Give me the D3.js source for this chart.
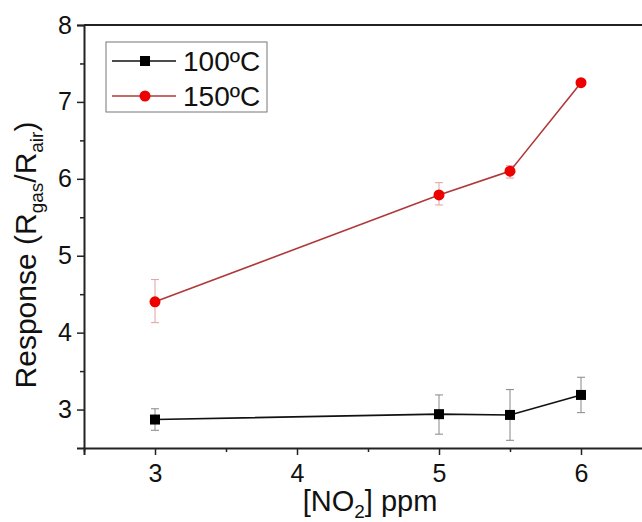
<!DOCTYPE html>
<html>
<head>
<meta charset="utf-8">
<script src="https://cdn.jsdelivr.net/npm/d3@7"></script>
<style>
  body { margin: 0; background: #fff; }
  text { font-family: "Liberation Sans", Arial, sans-serif; fill: #111; }
</style>
</head>
<body>
<svg id="canvas" width="642" height="522"></svg>
<script>
// concentration of NO2 (ppm)
let conc = [3, 5, 5.5, 6]
// response at 100 C
let resp100 = [2.87, 2.94, 2.93, 3.19]
let err100Hi = [3.01, 3.19, 3.26, 3.42]
let err100Lo = [2.73, 2.68, 2.60, 2.96]
// response at 150 C
let resp150 = [4.40, 5.79, 6.10, 7.25]
let err150Hi = [4.69, 5.95, 6.17, 7.28]
let err150Lo = [4.13, 5.66, 6.01, 7.22]

let xTicks = [3, 4, 5, 6]
let yTicks = [3, 4, 5, 6, 7, 8]
let seriesNames = ['100ºC', '150ºC']

let svg = d3.select('#canvas')
let margin = {top: 25, left: 84, bottom: 448, right: 652}

let x = d3.scaleLinear().domain([2.5, 6.5]).range([margin.left, margin.right])
let y = d3.scaleLinear().domain([2.5, 8]).range([margin.bottom, margin.top])

// frame top line
svg.append('line')
  .attr('x1', margin.left).attr('x2', 642)
  .attr('y1', margin.top).attr('y2', margin.top)
  .attr('stroke', '#222').attr('stroke-width', 2)

let xAxis = svg.append('g')
  .attr('transform', 'translate(0,' + margin.bottom + ')')
  .call(d3.axisBottom(x).tickValues(xTicks).tickFormat(d3.format('d')).tickSize(7).tickPadding(9))
xAxis.append('g')
  .call(d3.axisBottom(x).tickValues([2.5, 3.5, 4.5, 5.5, 6.5]).tickFormat('').tickSize(4))
  .select('.domain').remove()

let yAxis = svg.append('g')
  .attr('transform', 'translate(' + margin.left + ',0)')
  .call(d3.axisLeft(y).tickValues(yTicks).tickFormat(d3.format('d')).tickSize(7).tickPadding(5))
yAxis.append('g')
  .call(d3.axisLeft(y).tickValues([3.5, 4.5, 5.5, 6.5, 7.5]).tickFormat('').tickSize(4))
  .select('.domain').remove()

svg.selectAll('.domain').attr('stroke', '#222').attr('stroke-width', 2)
svg.selectAll('.tick line').attr('stroke', '#222').attr('stroke-width', 1.5)
svg.selectAll('.tick text').style('font-size', '25px').attr('fill', '#111')

// error bars
let drawErrors = (vals, hi, lo, color) => {
  let g = svg.append('g').attr('stroke', color).attr('stroke-width', 1)
  conc.forEach((c, i) => {
    g.append('line').attr('x1', x(c)).attr('x2', x(c)).attr('y1', y(hi[i])).attr('y2', y(lo[i]))
    g.append('line').attr('x1', x(c) - 4).attr('x2', x(c) + 4).attr('y1', y(hi[i])).attr('y2', y(hi[i]))
    g.append('line').attr('x1', x(c) - 4).attr('x2', x(c) + 4).attr('y1', y(lo[i])).attr('y2', y(lo[i]))
  })
}
drawErrors(resp100, err100Hi, err100Lo, '#888')
drawErrors(resp150, err150Hi, err150Lo, '#e3a0a0')

let line = d3.line().x((d, i) => x(conc[i])).y(d => y(d))

svg.append('path').datum(resp100)
  .attr('d', line).attr('fill', 'none').attr('stroke', '#111').attr('stroke-width', 1.6)
svg.append('path').datum(resp150)
  .attr('d', line).attr('fill', 'none').attr('stroke', '#b03838').attr('stroke-width', 1.6)

svg.selectAll('.sq').data(resp100).enter().append('rect')
  .attr('x', (d, i) => x(conc[i]) - 5).attr('y', d => y(d) - 5)
  .attr('width', 10).attr('height', 10).attr('fill', '#000')
svg.selectAll('.dot').data(resp150).enter().append('circle')
  .attr('cx', (d, i) => x(conc[i])).attr('cy', d => y(d))
  .attr('r', 5.5).attr('fill', '#ee0000')

// legend
let legend = svg.append('g')
legend.append('rect')
  .attr('x', 106).attr('y', 42).attr('width', 161).attr('height', 70)
  .attr('fill', '#fff').attr('stroke', '#777').attr('stroke-width', 1)
let legColors = ['#111', '#b03838']
seriesNames.forEach((name, i) => {
  let ly = 61 + i * 35
  legend.append('line').attr('x1', 112).attr('x2', 176).attr('y1', ly).attr('y2', ly)
    .attr('stroke', legColors[i]).attr('stroke-width', 1.4)
  if (i === 0) {
    legend.append('rect').attr('x', 140).attr('y', ly - 5).attr('width', 10).attr('height', 10).attr('fill', '#000')
  } else {
    legend.append('circle').attr('cx', 145).attr('cy', ly).attr('r', 5.5).attr('fill', '#ee0000')
  }
  legend.append('text').attr('x', 183).attr('y', ly + 10)
    .style('font-size', '28px').text(name)
})

// axis titles
let xt = svg.append('text').attr('x', 370).attr('y', 511)
  .attr('text-anchor', 'middle').style('font-size', '29px')
xt.append('tspan').text('[NO')
xt.append('tspan').attr('dy', 7).style('font-size', '19px').text('2')
xt.append('tspan').attr('dy', -7).text('] ppm')

let yt = svg.append('text')
  .attr('transform', 'translate(36,255) rotate(-90)')
  .attr('text-anchor', 'middle').style('font-size', '30px')
yt.append('tspan').text('Response (R')
yt.append('tspan').attr('dy', 7).style('font-size', '19px').text('gas')
yt.append('tspan').attr('dy', -7).text('/R')
yt.append('tspan').attr('dy', 7).style('font-size', '19px').text('air')
yt.append('tspan').attr('dy', -7).text(')')
</script>
</body>
</html>
